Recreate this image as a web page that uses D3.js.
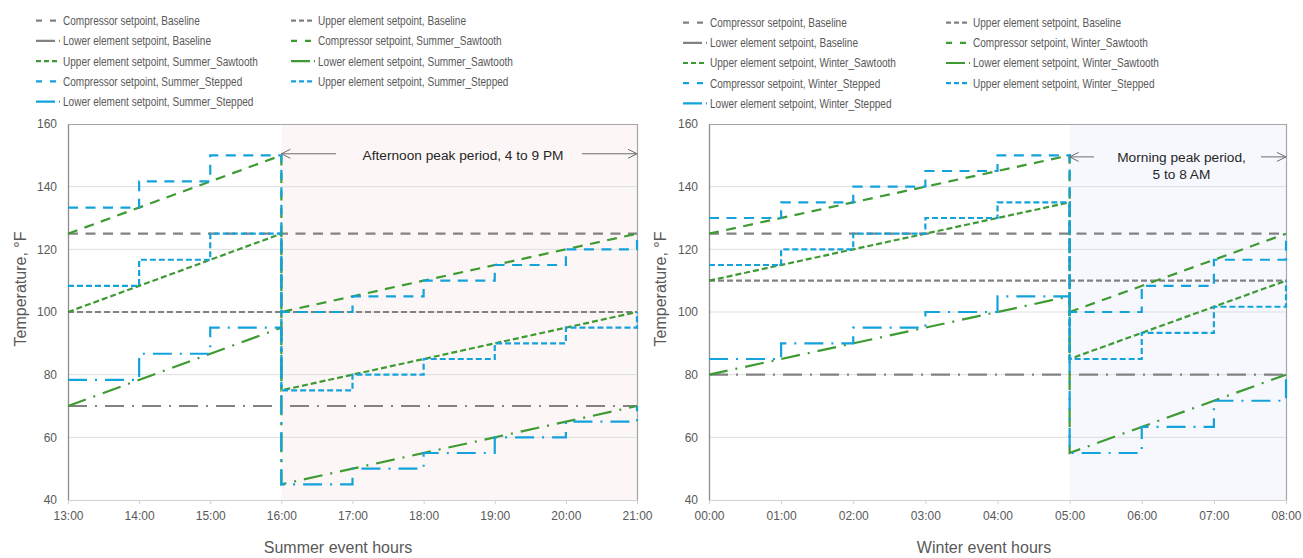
<!DOCTYPE html>
<html>
<head>
<meta charset="utf-8">
<script src="https://cdn.jsdelivr.net/npm/d3@7"></script>
<style>
  html, body { margin: 0; padding: 0; background: #fff; }
  svg { display: block; font-family: "Liberation Sans", Arial, sans-serif; }
</style>
</head>
<body>
<svg id="chart" width="1303" height="558"></svg>
<script>
// ---- Axis ticks ----
const summerHours = [13, 14, 15, 16, 17, 18, 19, 20, 21];
const summerTickLabels = ["13:00", "14:00", "15:00", "16:00", "17:00", "18:00", "19:00", "20:00", "21:00"];
const winterHours = [0, 1, 2, 3, 4, 5, 6, 7, 8];
const winterTickLabels = ["00:00", "01:00", "02:00", "03:00", "04:00", "05:00", "06:00", "07:00", "08:00"];
const tempTicks = [40, 60, 80, 100, 120, 140, 160];

// ---- Baseline setpoints (flat all event): compressor, upper element, lower element ----
const summerBaseline = [125, 100, 70];
const winterBaseline = [125, 110, 80];

// ---- Sawtooth setpoints: [hour, °F], ramping up and resetting at the peak start ----
const summerSawCompressor = [[13, 125], [16, 150], [16, 100], [21, 125]];
const summerSawUpper      = [[13, 100], [16, 125], [16, 75],  [21, 100]];
const summerSawLower      = [[13, 70],  [16, 95],  [16, 45],  [21, 70]];
const winterSawCompressor = [[0, 125], [5, 150], [5, 100], [8, 125]];
const winterSawUpper      = [[0, 110], [5, 135], [5, 85],  [8, 110]];
const winterSawLower      = [[0, 80],  [5, 105], [5, 55],  [8, 80]];

// ---- Stepped setpoints: °F held from each hour to the next ----
const summerStepCompressor = [133.33, 141.67, 150, 100, 105, 110, 115, 120, 125];
const summerStepUpper      = [108.33, 116.67, 125, 75, 80, 85, 90, 95, 100];
const summerStepLower      = [78.33, 86.67, 95, 45, 50, 55, 60, 65, 70];
const winterStepCompressor = [130, 135, 140, 145, 150, 100, 108.33, 116.67, 125];
const winterStepUpper      = [115, 120, 125, 130, 135, 85, 93.33, 101.67, 110];
const winterStepLower      = [85, 90, 95, 100, 105, 55, 63.33, 71.67, 80];

// ---- Styling ----
const setpointNames = ["Compressor setpoint", "Upper element setpoint", "Lower element setpoint"];
const setpointDash = ["10,7.5", "6,3", "19,8,2,8"];
const legendDash = ["6,8,6,8", "5,3,5,3,5,3", "19,4,2,8"];
const strategyColor = { Baseline: "#828282", Sawtooth: "#3e9a32", Stepped: "#14a2dc" };
const textColor = "#595959";

const svg = d3.select("#chart");
const plotTop = 124, plotBottom = 500;

function drawPanel(cfg) {
  const x = d3.scaleLinear().domain([cfg.hours[0], cfg.hours[cfg.hours.length - 1]]).range([cfg.left, cfg.right]);
  const y = d3.scaleLinear().domain([40, 160]).range([plotBottom, plotTop]);
  const g = svg.append("g");

  // peak-period shading
  g.append("rect")
    .attr("x", x(cfg.peakStart)).attr("y", plotTop)
    .attr("width", x(cfg.hours[cfg.hours.length - 1]) - x(cfg.peakStart))
    .attr("height", plotBottom - plotTop)
    .attr("fill", cfg.shade);

  // horizontal gridlines
  g.append("g").selectAll("line")
    .data(tempTicks.filter(t => t > 40 && t < 160))
    .join("line")
    .attr("x1", cfg.left).attr("x2", cfg.right)
    .attr("y1", d => y(d)).attr("y2", d => y(d))
    .attr("stroke", "#dedede").attr("stroke-width", 1);

  // plot frame
  g.append("line").attr("x1", cfg.left).attr("x2", cfg.right).attr("y1", plotTop + 0.5).attr("y2", plotTop + 0.5)
    .attr("stroke", "#a6a6a6").attr("stroke-width", 1);
  g.append("line").attr("x1", cfg.right + 0.5).attr("x2", cfg.right + 0.5).attr("y1", plotTop).attr("y2", plotBottom)
    .attr("stroke", "#a6a6a6").attr("stroke-width", 1.2);

  // y axis
  const yAxis = g.append("g").attr("transform", `translate(${cfg.left},0)`)
    .call(d3.axisLeft(y).tickValues(tempTicks).tickSize(0).tickPadding(11));
  yAxis.select(".domain").attr("stroke", "#8c8c8c").attr("stroke-width", 1.3);
  yAxis.selectAll("text").attr("fill", textColor).style("font-size", "12px")
    .style("font-family", "'Liberation Sans', Arial, sans-serif");

  // x axis
  const xAxis = g.append("g").attr("transform", `translate(0,${plotBottom})`)
    .call(d3.axisBottom(x).tickValues(cfg.hours).tickFormat((d, i) => cfg.tickLabels[i]).tickSize(4).tickPadding(7).tickSizeOuter(0));
  xAxis.select(".domain").attr("stroke", "#d0d0d0").attr("stroke-width", 1.2);
  xAxis.selectAll(".tick line").attr("stroke", "#d0d0d0");
  xAxis.selectAll("text").attr("fill", textColor).style("font-size", "12px")
    .style("font-family", "'Liberation Sans', Arial, sans-serif");

  // axis titles
  g.append("text")
    .attr("transform", `translate(${cfg.yTitleX},289) rotate(-90)`)
    .attr("text-anchor", "middle").attr("dy", "0.35em")
    .attr("fill", textColor).style("font-size", "16px")
    .text("Temperature, °F");
  g.append("text")
    .attr("x", cfg.xTitleX).attr("y", 553)
    .attr("text-anchor", "middle")
    .attr("fill", textColor).style("font-size", "16px")
    .text(cfg.xTitle);

  // series
  const line = d3.line().x(d => x(d[0])).y(d => y(d[1]));
  const stepLine = d3.line().x(d => x(d[0])).y(d => y(d[1])).curve(d3.curveStepAfter);
  const first = cfg.hours[0], last = cfg.hours[cfg.hours.length - 1];

  const series = [];
  cfg.baseline.forEach((v, i) => series.push({ strat: "Baseline", kind: i, pts: [[first, v], [last, v]], gen: line }));
  cfg.saw.forEach((pts, i) => series.push({ strat: "Sawtooth", kind: i, pts, gen: line }));
  cfg.step.forEach((vals, i) => series.push({ strat: "Stepped", kind: i, pts: vals.map((v, j) => [cfg.hours[j], v]), gen: stepLine }));

  g.append("g").selectAll("path")
    .data(series)
    .join("path")
    .attr("d", s => s.gen(s.pts))
    .attr("fill", "none")
    .attr("stroke", s => strategyColor[s.strat])
    .attr("stroke-width", 2.2)
    .attr("stroke-dasharray", s => setpointDash[s.kind]);

  // peak period annotation
  const ann = g.append("g");
  const ay = y(cfg.arrowTemp);
  const px0 = x(cfg.peakStart), px1 = x(last);
  const arrows = [
    { from: cfg.arrowGap[0], to: px0 },
    { from: cfg.arrowGap[1], to: px1 }
  ];
  arrows.forEach(a => {
    ann.append("line").attr("x1", a.from).attr("x2", a.to).attr("y1", ay).attr("y2", ay)
      .attr("stroke", "#6d6d6d").attr("stroke-width", 1);
    const dir = a.to > a.from ? -1 : 1;
    ann.append("path")
      .attr("d", `M${a.to + dir * 9},${ay - 4.5}L${a.to},${ay}L${a.to + dir * 9},${ay + 4.5}`)
      .attr("fill", "none").attr("stroke", "#6d6d6d").attr("stroke-width", 1);
  });
  const cx = (cfg.arrowGap[0] + cfg.arrowGap[1]) / 2 + cfg.labelShift;
  cfg.peakLabel.forEach((t, i) => {
    ann.append("text").attr("x", cx).attr("y", cfg.labelY + i * 16.5)
      .attr("text-anchor", "middle").attr("fill", "#262626").style("font-size", "13.7px")
      .text(t);
  });

  // legend (row-major, two columns), set in a condensed width
  const legendItems = series.map(s => ({ ...s, label: `${setpointNames[s.kind]}, ${s.strat === "Baseline" ? "Baseline" : cfg.season + "_" + s.strat}` }));
  const leg = g.append("g");
  legendItems.forEach((s, i) => {
    const col = i % 2, row = Math.floor(i / 2);
    const lx = cfg.legendX[col], ly = cfg.legendY + row * cfg.legendDy;
    leg.append("line").attr("x1", lx).attr("x2", lx + 24).attr("y1", ly).attr("y2", ly)
      .attr("stroke", strategyColor[s.strat]).attr("stroke-width", 2.2)
      .attr("stroke-dasharray", legendDash[s.kind]);
    const t = leg.append("text").attr("x", lx + 27).attr("y", ly).attr("dy", "0.35em")
      .attr("fill", textColor)
      .style("font-family", "'Liberation Sans', Arial, sans-serif")
      .style("font-size", "12.8px")
      .text(s.label);
    const w = t.node().getComputedTextLength();
    t.attr("textLength", w * 0.785).attr("lengthAdjust", "spacingAndGlyphs");
  });
}

drawPanel({
  season: "Summer",
  hours: summerHours, tickLabels: summerTickLabels,
  left: 68, right: 637, peakStart: 16, shade: "#fcf7f6",
  baseline: summerBaseline,
  saw: [summerSawCompressor, summerSawUpper, summerSawLower],
  step: [summerStepCompressor, summerStepUpper, summerStepLower],
  yTitleX: 20, xTitleX: 338, xTitle: "Summer event hours",
  arrowTemp: 150.5, arrowGap: [336, 582], labelShift: 4,
  peakLabel: ["Afternoon peak period, 4 to 9 PM"], labelY: 160,
  legendX: [36, 291], legendY: 20.7, legendDy: 20.25
});

drawPanel({
  season: "Winter",
  hours: winterHours, tickLabels: winterTickLabels,
  left: 709, right: 1286, peakStart: 5, shade: "#f6f8fd",
  baseline: winterBaseline,
  saw: [winterSawCompressor, winterSawUpper, winterSawLower],
  step: [winterStepCompressor, winterStepUpper, winterStepLower],
  yTitleX: 660, xTitleX: 984, xTitle: "Winter event hours",
  arrowTemp: 149.5, arrowGap: [1094, 1261], labelShift: 4,
  peakLabel: ["Morning peak period,", "5 to 8 AM"], labelY: 162,
  legendX: [683, 946], legendY: 22.7, legendDy: 20.15
});
</script>
</body>
</html>
